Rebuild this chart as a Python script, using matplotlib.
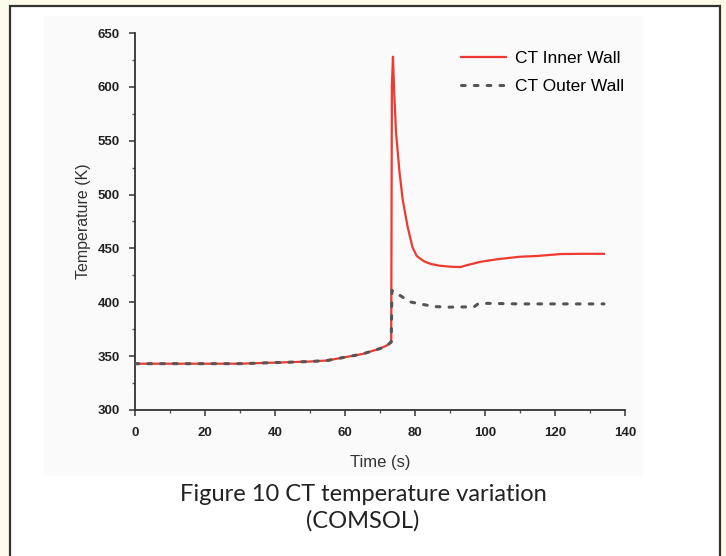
import matplotlib
matplotlib.use("Agg")
import matplotlib.pyplot as plt
from matplotlib.patches import Rectangle
from matplotlib.ticker import MultipleLocator

# time (s) and wall temperatures (K)
t_inner = [0, 10, 20, 30, 40, 50, 55, 60, 65, 68, 70, 72, 73.2, 73.4, 73.7, 74.1, 74.6,
           75.6, 76.5, 77.9, 79.3, 80.5, 82.6, 84.6, 87, 90.3, 93, 95, 98.9, 103.6,
           110, 115, 121.7, 128, 134]
T_inner = [343, 343, 343, 343, 344, 345, 346, 349, 352, 355, 357, 360, 363, 600, 628,
           591, 557, 520, 495, 470, 451, 443, 438, 435.5, 434, 433, 432.7, 434.6,
           437.7, 440, 442.3, 443, 444.8, 445, 445]

t_outer = [0, 10, 20, 30, 40, 50, 55, 60, 65, 68, 70, 72, 73.2, 73.4, 75, 78.4, 82.2,
           85.5, 90, 96.9, 98, 100.7, 110, 120, 134]
T_outer = [343, 343, 343, 343, 344, 345, 346, 349, 352, 355, 357, 360, 363, 411, 408,
           400.5, 398, 396, 395.5, 395.8, 398.5, 399, 398.5, 398.5, 398.5]

lbl_inner = 'CT Inner Wall'
lbl_outer = 'CT Outer Wall'
caption = 'Figure 10 CT temperature variation\n(COMSOL)'

sans = ['Liberation Sans', 'DejaVu Sans']

fig = plt.figure(figsize=(7.26, 5.56), dpi=100, facecolor='#fffbea')
W, H = 726.0, 556.0

# page frame and the pasted plot area behind the axes
fig.patches.append(Rectangle((10 / W, -0.05), 710 / W, 1 - 6 / H + 0.05,
                             transform=fig.transFigure, facecolor='white',
                             edgecolor='#333333', lw=1.6, zorder=-10))
fig.patches.append(Rectangle((44 / W, 1 - 476 / H), 599 / W, 460 / H,
                             transform=fig.transFigure, facecolor='#fafafa',
                             edgecolor='none', zorder=-9))

ax = fig.add_axes([135 / W, 1 - 410 / H, 490 / W, 377 / H])
ax.set_facecolor('none')

ax.plot(t_inner, T_inner, color='#ee3a30', lw=1.6, label=lbl_inner, zorder=3)
ax.plot(t_outer, T_outer, color='#555555', lw=2.2, linestyle=(0, (1.2, 3.0)),
        dash_capstyle='round', label=lbl_outer, zorder=4)

ax.set_xlim(0, 140)
ax.set_ylim(300, 650)
ax.xaxis.set_major_locator(MultipleLocator(20))
ax.xaxis.set_minor_locator(MultipleLocator(10))
ax.yaxis.set_major_locator(MultipleLocator(50))
ax.yaxis.set_minor_locator(MultipleLocator(25))

for s in ['top', 'right']:
    ax.spines[s].set_visible(False)
for s in ['left', 'bottom']:
    ax.spines[s].set_linewidth(1.3)
    ax.spines[s].set_color('#333333')

ax.tick_params(which='major', direction='out', length=4, width=1.1, color='#333333',
               labelsize=9.5, labelcolor='#222222')
ax.tick_params(axis='y', which='major', pad=7)
ax.tick_params(axis='x', which='major', pad=8)
ax.tick_params(which='minor', direction='out', length=2, width=1.0, color='#555555')
for lab in ax.get_xticklabels() + ax.get_yticklabels():
    lab.set_family(sans)
    lab.set_fontweight('bold')

ax.set_xlabel('Time (s)', fontsize=12, family=sans, color='#333333', labelpad=12)
ax.set_ylabel('Temperature (K)', fontsize=11.5, family=sans, color='#333333', labelpad=5)

ax.legend(loc='upper left', bbox_to_anchor=(0.665, 0.952), frameon=False,
          borderpad=0, borderaxespad=0, handlelength=2.6, handletextpad=0.5,
          labelspacing=0.75, prop={'family': sans, 'size': 12.5})

fig.text(0.5, 1 - 508 / H, caption, ha='center', va='center', fontsize=17,
         family=['Lato', 'DejaVu Sans'], color='#222222', linespacing=1.3)

fig.savefig('out.png', dpi=100, facecolor=fig.get_facecolor())
